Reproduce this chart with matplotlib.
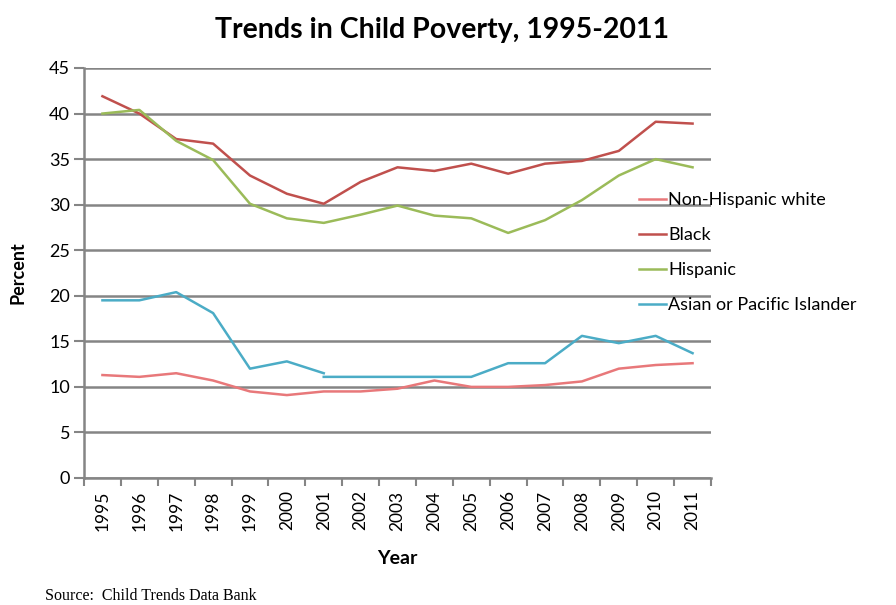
import matplotlib
matplotlib.use("Agg")
import matplotlib.pyplot as plt
import numpy as np

years = [str(y) for y in range(1995, 2012)]

non_hispanic_white = [11.3, 11.1, 11.5, 10.7, 9.5, 9.1, 9.5, 9.5, 9.8, 10.7,
                      10.0, 10.0, 10.2, 10.6, 12.0, 12.4, 12.6]
black = [41.9, 40.0, 37.2, 36.7, 33.2, 31.2, 30.1, 32.5, 34.1, 33.7,
         34.5, 33.4, 34.5, 34.8, 35.9, 39.1, 38.9]
hispanic = [40.0, 40.4, 37.0, 34.9, 30.1, 28.5, 28.0, 28.9, 29.9, 28.8,
            28.5, 26.9, 28.3, 30.5, 33.2, 35.0, 34.1]
# Asian or Pacific Islander: series break after 2001
asian_early = [19.5, 19.5, 20.4, 18.1, 12.0, 12.8, 11.5]
asian_late = [11.1, 11.1, 11.1, 11.1, 11.1, 12.6, 12.6, 15.6, 14.8, 15.6, 13.7]

series_names = ["Non-Hispanic white", "Black", "Hispanic", "Asian or Pacific Islander"]
colors = ["#E8787A", "#C0504D", "#9BBB59", "#4BACC6"]

W, H = 896, 605
fig = plt.figure(figsize=(W / 100, H / 100), dpi=100)
left, right, top, bottom = 84, 711, 68, 478
ax = fig.add_axes([left / W, 1 - bottom / H, (right - left) / W, (bottom - top) / H])

x = np.arange(len(years))
lw = 1.8
ax.plot(x, non_hispanic_white, color=colors[0], lw=lw, label=series_names[0], zorder=3)
ax.plot(x, black, color=colors[1], lw=lw, label=series_names[1], zorder=3)
ax.plot(x, hispanic, color=colors[2], lw=lw, label=series_names[2], zorder=3)
ax.plot(x[:len(asian_early)], asian_early, color=colors[3], lw=lw,
        label=series_names[3], zorder=3)
ax.plot(x[len(asian_early) - 1:], asian_late, color=colors[3], lw=lw, zorder=3)

ax.set_xlim(-0.5, len(years) - 0.5)
ax.set_ylim(0, 45)
ax.set_yticks(np.arange(0, 46, 5))
ax.yaxis.grid(True, color="#858585", lw=1.8)
ax.set_axisbelow(True)

ax.set_xticks(x)
ax.set_xticklabels(years, rotation=90, fontsize=12.5, family="Lato")
ax.set_xticks(np.arange(-0.5, len(years), 1), minor=True)
ax.tick_params(axis="x", which="major", length=0, pad=9)
ax.tick_params(axis="x", which="minor", length=6, width=1.5, color="#858585")
ax.tick_params(axis="y", length=7, width=1.5, color="#858585", pad=3)
for lab in ax.get_yticklabels():
    lab.set_fontsize(13)
    lab.set_family("Lato")

for s in ["top", "right"]:
    ax.spines[s].set_visible(False)
for s in ["left", "bottom"]:
    ax.spines[s].set_color("#858585")
    ax.spines[s].set_linewidth(1.8)

ax.set_ylabel("Percent", fontsize=13, fontweight="bold", family="Lato", labelpad=16)
ax.set_xlabel("Year", fontsize=14, fontweight="bold", family="Lato", labelpad=14)

fig.text(442 / W, 1 - 30 / H, "Trends in Child Poverty, 1995-2011", ha="center",
         va="center", fontsize=20.5, fontweight="bold", family="Lato")
fig.text(45 / W, 1 - 596 / H, "Source:  Child Trends Data Bank", ha="left",
         va="center", fontsize=11.5, family="Liberation Serif")

leg = ax.legend(loc="upper left", bbox_to_anchor=(632 / W, 1 - 185 / H),
                bbox_transform=fig.transFigure, frameon=False,
                prop={"family": "Lato", "size": 13}, handlelength=1.5,
                handletextpad=0.1, labelspacing=1.05, borderaxespad=0)

fig.savefig("out.png", dpi=100)
